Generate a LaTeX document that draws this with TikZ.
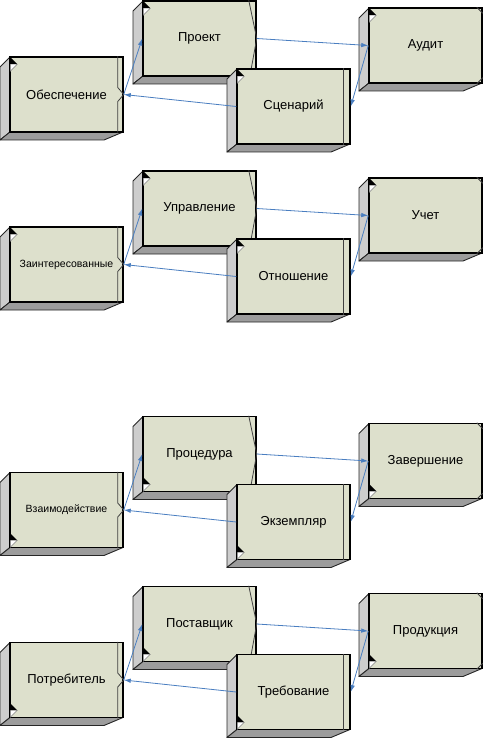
\documentclass[tikz,border=0pt]{standalone}
\usepackage{fontspec}
\setmainfont{Liberation Sans}
\usetikzlibrary{calc,arrows.meta}
\definecolor{frontc}{RGB}{221,224,204}
\definecolor{lpanelc}{RGB}{205,205,205}
\definecolor{bpanelc}{RGB}{156,156,156}
\definecolor{arrc}{RGB}{74,126,192}
\newcommand\sml{\fontsize{10.5}{12}\selectfont}
\tikzset{
  front/.style={draw=black, line width=1.5pt, fill=frontc, minimum width=113pt, minimum height=75pt, inner sep=0pt, font=\fontsize{13}{15}\selectfont},
  lpanel/.style={fill=lpanelc, draw=black!85, line width=0.9pt, line join=round},
  bpanel/.style={fill=bpanelc, draw=black!85, line width=0.9pt, line join=round},
  innerln/.style={draw=black!75, line width=0.8pt},
  arr/.style={draw=arrc, line width=0.8pt, -{Latex[length=7pt,width=4.5pt]}},
}
\newcommand\cubebox[4]{%
  \coordinate (#1nw) at ({#2-56.5},{#3-37.5});
  \coordinate (#1sw) at ({#2-56.5},{#3+37.5});
  \coordinate (#1se) at ({#2+56.5},{#3+37.5});
  \filldraw[lpanel] (#1nw) -- ++(-10,10) -- ($(#1sw)+(-10,8)$) -- (#1sw) -- cycle;
  \filldraw[bpanel] (#1sw) -- (#1se) -- ++(-19,8) -- ($(#1sw)+(-10,8)$) -- cycle;
  \node[front] (#1) at ({#2},{#3}) {#4};
}
\newcommand\mkrt[1]{%
  \fill[black] ($(#1.north west)+(1,1)$) -- ++(7,7) -- ++(-7,0) -- cycle;
  \filldraw[fill=white, draw=black!50, line width=0.4pt] ($(#1.north west)+(1,8)$) -- ++(7,0) -- ++(-7,7) -- cycle;
}
\newcommand\mkrb[1]{%
  \fill[black] ($(#1.south west)+(1,-15)$) -- ++(7,7) -- ++(-7,0) -- cycle;
  \filldraw[fill=white, draw=black!50, line width=0.4pt] ($(#1.south west)+(1,-8)$) -- ++(7,0) -- ++(-7,7) -- cycle;
}
\newcommand\cgroup[7]{%
  % P box
  \cubebox{#1P}{199.5}{38.5+#2}{#4}
  \draw[innerln] ($(#1P.north east)+(-8,0)$) -- (#1P.east) -- ($(#1P.south east)+(-7,0)$);
  \csname mkr#7\endcsname{#1P}
  % A box
  \cubebox{#1A}{425.5}{45.5+#2}{#5}
  \draw[innerln] ($(#1A.north east)+(-6,0)$) -- ($(#1A.north east)+(0,6)$);
  \draw[innerln] ($(#1A.south east)+(-6,0)$) -- ($(#1A.south east)+(0,-6)$);
  \csname mkr#7\endcsname{#1A}
  % L box
  \cubebox{#1L}{66.5}{94.5+#2}{#3}
  \draw[innerln] ($(#1L.north east)+(-6,0)$) -- ($(#1L.east)+(-6,-7)$) -- (#1L.east) -- ($(#1L.east)+(-6,7)$) -- ($(#1L.south east)+(-6,0)$);
  \csname mkr#7\endcsname{#1L}
  % S box
  \cubebox{#1S}{293.5}{106.5+#2}{#6}
  \draw[innerln] ($(#1S.north east)+(-7,0)$) -- ($(#1S.south east)+(-7,0)$);
  \csname mkr#7\endcsname{#1S}
  % connectors
  \draw[arr] (#1L.east) -- (#1P.west);
  \draw[arr] (#1P.east) -- (#1A.west);
  \draw[arr] (#1A.west) -- (#1S.east);
  \draw[arr] (#1S.west) -- (#1L.east);
}
\begin{document}
\begin{tikzpicture}[x=1pt,y=-1pt]
\useasboundingbox (0,0) rectangle (483,738);
\cgroup{a}{0}{Обеспечение}{Проект}{Аудит}{Сценарий}{t}
\cgroup{b}{170}{{\sml Заинтересованные}}{Управление}{Учет}{Отношение}{t}
\cgroup{c}{415.5}{{\sml Взаимодействие}}{Процедура}{Завершение}{Экземпляр}{b}
\cgroup{d}{585.5}{Потребитель}{Поставщик}{Продукция}{Требование}{b}
\end{tikzpicture}
\end{document}
